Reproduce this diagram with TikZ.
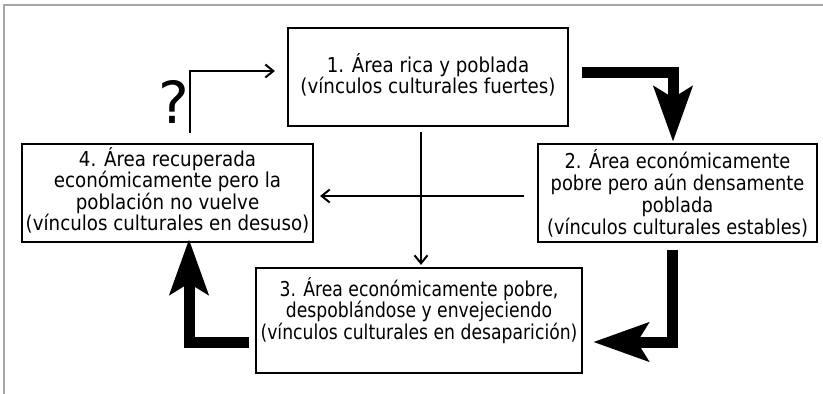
\documentclass[tikz,border=0pt]{standalone}
\usepackage{fontspec}
\setmainfont{DejaVu Sans}
\newfontfamily\fontA{DejaVu Sans}[FakeStretch=0.89]
\newfontfamily\fontB{DejaVu Sans}[FakeStretch=0.87]
\newfontfamily\fontC{DejaVu Sans}[FakeStretch=0.84]
\usetikzlibrary{arrows.meta,calc}
\tikzset{
  boxshape/.style={draw, line width=2.2pt, inner sep=0pt},
  boxtext/.style={inner sep=0pt, align=center},
  thinarrow/.style={line width=2pt, -{Straight Barb[length=8pt,width=13pt,line width=2pt]}},
  thickarrow/.style={line width=11pt, line join=miter, -{Stealth[length=55pt,width=38pt,inset=11pt]}},
}
\begin{document}
\begin{tikzpicture}[x=1pt,y=-1pt]
\useasboundingbox (0,0) rectangle (823,394);
\fill[white] (0,0) rectangle (823,394);
\draw[gray!70, line width=1.5pt] (4,394) -- (4,5) -- (823,5);

\node[boxshape, minimum width=280pt, minimum height=98pt] (b1) at (428,77) {};
\node[boxshape, minimum width=279pt, minimum height=98pt] (b2) at (677.5,193) {};
\node[boxshape, minimum width=291pt, minimum height=98pt] (b4) at (167.5,193) {};
\node[boxshape, minimum width=326pt, minimum height=105pt] (b3) at (419,320.5) {};

\node[boxtext, font=\fontA\fontsize{20.5}{19.5}\selectfont] (t1) at ($(b1.center)+(0,-2)$)
  {1. Área rica y poblada\\(vínculos culturales fuertes)};
\node[boxtext, font=\fontB\fontsize{20.5}{22}\selectfont] (t2) at ($(b2.center)+(0,0.5)$)
  {2. Área económicamente\\pobre pero aún densamente\\poblada\\(vínculos culturales estables)};
\node[boxtext, font=\fontA\fontsize{20.5}{21.5}\selectfont] (t4) at ($(b4.center)+(0,-2.5)$)
  {4. Área recuperada\\económicamente pero la\\población no vuelve\\(vínculos culturales en desuso)};
\node[boxtext, font=\fontC\fontsize{20.5}{20}\selectfont] (t3) at ($(b3.center)+(0,-10)$)
  {3. Área económicamente pobre,\\despoblándose y envejeciendo\\(vínculos culturales en desaparición)};

\node[inner sep=0pt, font=\fontsize{58}{60}\selectfont] (q) at (174,102) {?};

% thin arrows
\draw[thinarrow] ($(b1.south)+(-7,5)$) -- ($(b3.north)+(2,-2)$);
\draw[thinarrow] ($(b2.west)+(-13,3)$) -- ($(b4.east)+(6,3)$);
\draw[thinarrow] ($(b4.north)+(22.5,-10)$) |- ($(b1.west)+(-12,-6)$);

% thick arrows
\draw[thickarrow] ($(b1.east)+(13,-5)$) -| ($(b2.north)+(-4.5,-1)$);
\draw[thickarrow] ($(b2.south)+(-5.5,7)$) |- ($(b3.east)+(10,21.5)$);
\draw[thickarrow] ($(b3.west)+(-6,21.5)$) -| ($(b4.south)+(21.5,-4)$);
\end{tikzpicture}
\end{document}
